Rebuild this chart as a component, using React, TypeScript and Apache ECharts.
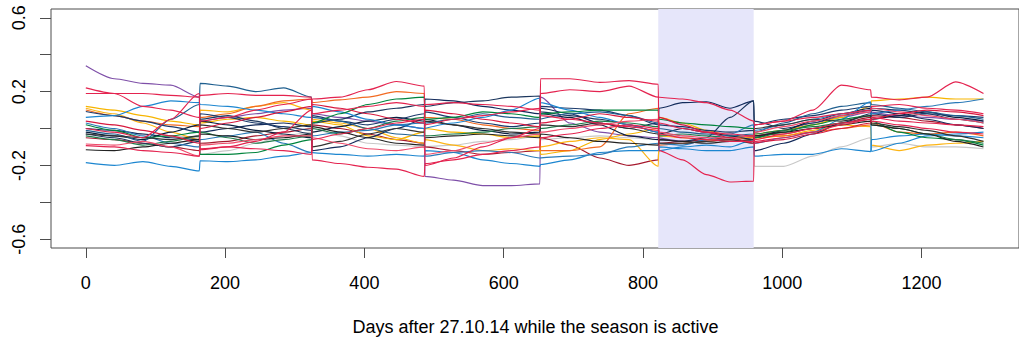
import { useEffect, useRef } from "react";
import * as echarts from "echarts";

// sample days (5 per season; consecutive seasons are 1 day apart -> vertical jumps)
const days = [
  0, 41, 82, 122, 163,
  164, 204, 244, 284, 324,
  325, 365, 405, 446, 486,
  487, 528, 570, 611, 652,
  653, 695, 738, 780, 822,
  823, 857, 891, 925, 959,
  960, 1002, 1044, 1085, 1127,
  1128, 1168, 1208, 1249, 1289,
];

const xTicks = [0, 200, 400, 600, 800, 1000, 1200];
const yTicks = [-0.6, -0.4, -0.2, 0, 0.2, 0.4, 0.6];
const yLabels = [-0.6, -0.2, 0.2, 0.6];
const activeSeason = [822, 959];
const xTitle = "Days after 27.10.14 while the season is active";

const purple = [0.34, 0.27, 0.245, 0.235, 0.17, 0.04, 0.06, 0.08, 0.1, 0.11, 0.08, 0.06, 0.04, 0.02, 0.0, -0.26, -0.28, -0.31, -0.31, -0.3, 0.17, 0.03, -0.02, -0.04, -0.05, -0.05, -0.07, -0.06, -0.06, -0.05, -0.04, -0.01, 0.03, 0.06, 0.09, 0.09, 0.07, 0.06, 0.05, 0.04];
const grey = [0.0, -0.02, -0.03, -0.04, -0.05, -0.14, -0.12, -0.08, -0.04, -0.02, 0.0, -0.04, -0.08, -0.09, -0.1, -0.1, -0.09, -0.07, -0.06, -0.04, -0.06, -0.05, -0.04, -0.05, -0.06, -0.03, -0.04, -0.03, -0.02, -0.01, -0.205, -0.205, -0.15, -0.1, -0.05, -0.1, -0.08, -0.1, -0.1, -0.11];
const maroon = [-0.05, -0.06, -0.08, -0.1, -0.12, -0.08, -0.07, -0.04, -0.02, 0.0, 0.02, 0.0, -0.03, -0.06, -0.08, -0.1, -0.12, -0.14, -0.13, -0.12, -0.05, -0.09, -0.16, -0.2, -0.17, -0.08, -0.07, -0.06, -0.05, -0.04, -0.04, -0.03, 0.0, 0.03, 0.06, 0.07, 0.06, 0.04, 0.02, 0.0];
const gold = [0.11, 0.08, 0.03, -0.02, -0.06, 0.1, 0.09, 0.12, 0.14, 0.1, 0.05, 0.03, 0.0, -0.05, -0.08, -0.06, -0.09, -0.12, -0.11, -0.12, -0.1, -0.07, -0.05, -0.06, -0.205, -0.04, -0.05, -0.06, -0.07, -0.06, -0.06, -0.04, -0.01, 0.02, 0.01, -0.09, -0.12, -0.09, -0.08, -0.07];
const gold2 = [0.12, 0.1, 0.07, 0.04, 0.02, 0.03, 0.05, 0.06, 0.04, 0.02, 0.04, 0.02, -0.04, -0.06, -0.02, 0.0, -0.02, -0.03, -0.05, -0.04, -0.14, -0.12, -0.06, -0.03, 0.0, 0.06, 0.03, -0.01, -0.04, -0.05, -0.03, -0.01, 0.02, 0.06, 0.12, 0.15, 0.16, 0.17, 0.16, 0.16];
const orange = [0.1, 0.07, 0.04, 0.02, 0.01, 0.06, 0.08, 0.12, 0.15, 0.16, 0.14, 0.155, 0.17, 0.2, 0.19, 0.06, 0.05, 0.02, 0.0, -0.01, -0.12, -0.12, -0.1, 0.08, 0.11, -0.09, -0.08, -0.07, -0.06, -0.05, -0.05, -0.04, -0.02, 0.0, 0.02, 0.03, -0.02, -0.03, -0.02, -0.04];
const navy1 = [0.0, -0.01, -0.03, -0.05, -0.06, -0.02, 0.0, 0.02, 0.03, 0.01, -0.12, -0.1, -0.05, 0.0, 0.05, 0.16, 0.15, 0.12, 0.1, 0.08, 0.11, 0.08, 0.03, 0.0, 0.03, 0.11, 0.14, 0.145, 0.11, 0.15, -0.12, -0.08, -0.03, 0.03, 0.08, 0.1, 0.08, 0.05, 0.02, 0.0];
const navy2 = [-0.03, -0.05, -0.08, -0.1, -0.07, 0.05, 0.07, 0.04, 0.0, -0.03, 0.03, 0.05, 0.09, 0.11, 0.13, 0.12, 0.14, 0.15, 0.17, 0.176, 0.09, 0.07, 0.05, 0.02, -0.02, -0.06, -0.07, -0.05, 0.06, 0.15, 0.04, 0.0, 0.03, 0.07, 0.1, 0.08, 0.06, 0.08, 0.05, 0.03];
const navy3 = [-0.02, -0.04, -0.06, -0.02, 0.02, 0.04, 0.02, -0.01, -0.03, -0.05, -0.02, 0.01, 0.04, 0.06, 0.04, 0.05, 0.02, -0.01, -0.03, -0.02, 0.08, 0.06, 0.02, -0.04, -0.06, -0.03, 0.0, -0.02, -0.04, -0.06, -0.05, -0.01, 0.04, 0.08, 0.11, 0.05, 0.07, 0.09, 0.06, 0.04];
const navy4 = [0.092, 0.07, 0.04, 0.01, -0.02, 0.08, 0.06, 0.03, 0.01, -0.01, 0.07, 0.04, 0.02, 0.05, 0.08, 0.09, 0.06, 0.03, 0.01, 0.03, 0.12, 0.11, 0.1, 0.07, 0.02, 0.02, 0.01, -0.01, -0.02, -0.01, 0.02, 0.05, 0.07, 0.1, 0.12, 0.11, 0.1, 0.08, 0.07, 0.06];
const steel = [-0.01, -0.03, -0.07, 0.05, 0.13, 0.245, 0.23, 0.2, 0.22, 0.17, 0.06, 0.04, 0.0, -0.03, -0.04, 0.03, 0.05, 0.08, 0.06, 0.05, 0.05, 0.08, 0.09, 0.07, 0.03, 0.0, -0.02, -0.03, -0.04, -0.03, -0.02, 0.03, 0.08, 0.12, 0.14, 0.13, 0.11, 0.09, 0.07, 0.05];
const blue1 = [-0.185, -0.2, -0.18, -0.205, -0.23, -0.175, -0.18, -0.17, -0.15, -0.13, -0.13, -0.14, -0.15, -0.14, -0.15, -0.12, -0.13, -0.17, -0.19, -0.205, -0.195, -0.17, -0.13, -0.12, -0.12, -0.1, -0.11, -0.12, -0.12, -0.1, -0.15, -0.14, -0.14, -0.11, -0.125, -0.06, -0.04, -0.03, -0.04, -0.05];
const blue2 = [0.06, 0.07, 0.12, 0.15, 0.14, 0.13, 0.12, 0.1, 0.08, 0.06, 0.12, 0.09, 0.05, 0.02, 0.0, 0.0, 0.03, 0.06, 0.1, 0.165, 0.14, 0.1, 0.06, 0.02, -0.02, -0.12, -0.1, -0.09, -0.1, -0.06, -0.08, -0.05, -0.02, 0.05, 0.145, -0.124, -0.08, -0.04, -0.03, -0.02];
const blue3 = [0.03, 0.0, -0.04, -0.08, -0.1, -0.06, -0.04, -0.02, -0.08, -0.13, -0.04, -0.02, -0.01, 0.02, 0.03, -0.15, -0.13, -0.12, -0.13, -0.16, -0.16, -0.15, -0.14, -0.1, -0.08, -0.08, -0.09, -0.06, -0.03, 0.02, -0.01, 0.02, 0.05, 0.08, 0.1, 0.08, 0.1, 0.12, 0.14, 0.16];
const green1 = [0.02, -0.01, -0.05, -0.04, -0.02, -0.14, -0.14, -0.13, -0.09, -0.06, 0.03, 0.08, 0.13, 0.16, 0.17, 0.05, 0.06, 0.09, 0.08, 0.06, 0.08, 0.09, 0.1, 0.1, 0.1, 0.05, 0.03, 0.02, 0.01, 0.0, -0.05, -0.02, 0.02, 0.05, 0.07, 0.04, -0.02, -0.05, -0.06, -0.09];
const green2 = [-0.04, -0.06, -0.09, -0.07, -0.04, -0.02, -0.05, -0.08, -0.06, -0.04, 0.0, -0.03, 0.0, 0.04, 0.06, -0.04, -0.03, -0.02, 0.0, 0.01, 0.0, 0.02, 0.04, 0.03, 0.01, -0.04, -0.03, -0.04, -0.05, -0.04, -0.03, -0.01, 0.01, 0.03, 0.05, 0.02, 0.0, -0.03, -0.06, -0.08];
const black1 = [-0.115, -0.12, -0.1, -0.08, -0.06, -0.03, -0.04, -0.06, -0.05, -0.03, 0.01, -0.02, -0.05, -0.08, -0.09, -0.05, -0.04, -0.03, -0.04, -0.05, -0.03, -0.05, -0.07, -0.08, -0.09, -0.06, -0.07, -0.08, -0.07, -0.06, -0.04, -0.02, 0.0, 0.02, 0.04, 0.02, 0.0, -0.03, -0.07, -0.1];
const black2 = [-0.03, -0.04, -0.05, -0.06, -0.04, 0.02, 0.0, -0.02, 0.0, 0.02, -0.1, -0.07, -0.03, 0.0, -0.02, 0.04, 0.02, 0.0, -0.02, -0.03, 0.02, 0.01, 0.03, 0.0, -0.03, -0.08, -0.08, -0.07, -0.06, -0.08, 0.0, 0.02, 0.05, 0.04, 0.07, 0.03, 0.01, -0.01, -0.04, -0.07];
const pink = [-0.084, -0.09, -0.07, -0.1, -0.15, -0.09, -0.08, -0.06, -0.04, -0.04, -0.05, -0.08, -0.11, -0.12, -0.1, -0.14, -0.12, -0.08, -0.05, -0.03, -0.02, 0.0, 0.02, 0.04, 0.05, -0.02, -0.04, -0.05, -0.05, -0.04, -0.02, 0.01, 0.04, 0.07, 0.09, 0.11, 0.09, 0.07, 0.05, 0.03];
const red2 = [0.04, 0.02, -0.01, -0.04, -0.08, 0.0, 0.03, 0.06, 0.09, 0.12, 0.13, 0.11, 0.08, 0.05, 0.03, 0.1, 0.08, 0.05, 0.03, 0.01, 0.03, 0.05, 0.08, 0.06, 0.04, 0.06, 0.02, -0.02, -0.05, -0.08, -0.08, -0.06, -0.03, 0.0, 0.03, 0.05, 0.08, 0.1, 0.09, 0.07];
const crimsonE = [-0.093, -0.1, -0.12, -0.13, -0.15, -0.11, -0.1, -0.11, -0.12, -0.14, -0.06, -0.03, 0.0, 0.03, 0.05, 0.02, 0.05, 0.07, 0.09, 0.11, 0.07, 0.05, 0.03, 0.01, -0.01, 0.03, 0.0, -0.02, -0.03, -0.04, -0.07, -0.05, -0.02, 0.02, 0.05, 0.06, 0.04, 0.03, 0.02, 0.01];
const crimsonA = [0.22, 0.19, 0.12, 0.1, 0.06, 0.04, 0.06, 0.1, 0.13, 0.16, 0.08, 0.1, 0.12, 0.14, 0.12, 0.13, 0.14, 0.13, 0.12, 0.1, 0.19, 0.21, 0.2, 0.23, 0.17, 0.17, 0.16, 0.14, 0.1, 0.04, 0.02, 0.04, 0.06, 0.08, 0.1, 0.12, 0.13, 0.11, 0.1, 0.08];
const crimsonB = [0.19, 0.19, 0.19, 0.18, 0.17, 0.18, 0.19, 0.18, 0.18, 0.17, -0.17, -0.19, -0.21, -0.22, -0.26, -0.19, -0.17, -0.14, -0.12, -0.1, -0.05, -0.03, 0.0, 0.02, 0.0, -0.03, -0.05, -0.06, -0.07, -0.07, -0.06, -0.03, 0.0, 0.03, 0.05, 0.04, 0.02, 0.0, -0.02, -0.03];
const crimsonC = [0.0, -0.02, -0.05, 0.05, 0.19, -0.115, -0.1, -0.07, -0.02, 0.1, 0.16, 0.17, 0.21, 0.255, 0.23, -0.2, -0.16, -0.1, -0.05, 0.0, 0.27, 0.27, 0.25, 0.26, 0.24, -0.12, -0.17, -0.25, -0.29, -0.285, 0.02, 0.04, 0.1, 0.235, 0.21, 0.17, 0.155, 0.17, 0.253, 0.19];

const lines = [
  { color: "#7E4FA8", values: purple },
  { color: "#C8C8C8", values: grey },
  { color: "#A6192E", values: maroon },
  { color: "#FDB515", values: gold },
  { color: "#F7B500", values: gold2 },
  { color: "#F26A21", values: orange },
  { color: "#132B5B", values: navy1 },
  { color: "#1B365D", values: navy2 },
  { color: "#0B1F3F", values: navy3 },
  { color: "#1B3A6B", values: navy4 },
  { color: "#1F5F8F", values: steel },
  { color: "#1C86D0", values: blue1 },
  { color: "#1C86D0", values: blue2 },
  { color: "#2A7AB8", values: blue3 },
  { color: "#00843D", values: green1 },
  { color: "#1E7B4A", values: green2 },
  { color: "#222222", values: black1 },
  { color: "#333333", values: black2 },
  { color: "#EF4A6A", values: pink },
  { color: "#D7193F", values: red2 },
  { color: "#E4234F", values: crimsonE },
  { color: "#E4234F", values: crimsonA },
  { color: "#E4234F", values: crimsonB },
  { color: "#E4234F", values: crimsonC },
];

const FONT = '"Liberation Sans", Arial, Helvetica, sans-serif';

export default function App() {
  const ref = useRef<HTMLDivElement>(null);
  useEffect(() => {
    if (!ref.current) return;
    const chart = echarts.init(ref.current, undefined, { renderer: "svg" });
    const series: any[] = [
      {
        type: "line",
        data: [[activeSeason[0], 0]],
        showSymbol: false,
        lineStyle: { opacity: 0 },
        silent: true,
        z: 1,
        markArea: {
          silent: true,
          itemStyle: { color: "#E6E6FA" },
          data: [[{ xAxis: activeSeason[0] }, { xAxis: activeSeason[1] }]],
        },
      },
      ...lines.map((l) => ({
        type: "line",
        data: days.map((d, i) => [d, l.values[i]]),
        showSymbol: false,
        smooth: 0.25,
        smoothMonotone: "x",
        silent: true,
        z: 2,
        lineStyle: { color: l.color, width: 1.15 },
      })),
    ];
    chart.setOption({
      animation: false,
      grid: {
        left: 51,
        right: -1,
        top: 9,
        bottom: 94,
        show: true,
        borderColor: "#4d4d4d",
        borderWidth: 1,
        backgroundColor: "transparent",
      },
      xAxis: {
        type: "value",
        position: "bottom",
        min: -50,
        max: 1340,
        axisLine: { show: false, onZero: false },
        splitLine: { show: false },
        axisTick: {
          show: true,
          inside: false,
          length: 10,
          customValues: xTicks,
          lineStyle: { color: "#4d4d4d", width: 1 },
        },
        axisLabel: {
          customValues: xTicks,
          margin: 26,
          fontSize: 18,
          fontFamily: FONT,
          color: "#000",
          formatter: (v: number) => String(v),
        },
      },
      yAxis: {
        type: "value",
        position: "left",
        min: -0.648,
        max: 0.648,
        axisLine: { show: false, onZero: false },
        splitLine: { show: false },
        axisTick: {
          show: true,
          inside: false,
          length: 11,
          customValues: yTicks,
          lineStyle: { color: "#4d4d4d", width: 1 },
        },
        axisLabel: {
          customValues: yLabels,
          rotate: 90,
          margin: 23,
          fontSize: 18,
          fontFamily: FONT,
          color: "#000",
          formatter: (v: number) => String(Math.round(v * 10) / 10),
        },
      },
      graphic: [
        {
          type: "text",
          x: 535.5,
          y: 326.7,
          style: {
            text: xTitle,
            font: `18px ${FONT}`,
            fill: "#000",
            align: "center",
            verticalAlign: "middle",
          },
        },
      ],
      series,
    });
    return () => chart.dispose();
  }, []);
  return (
    <div
      ref={ref}
      style={{ position: "fixed", left: 0, top: 0, width: 1019, height: 342, background: "#fff" }}
    />
  );
}
